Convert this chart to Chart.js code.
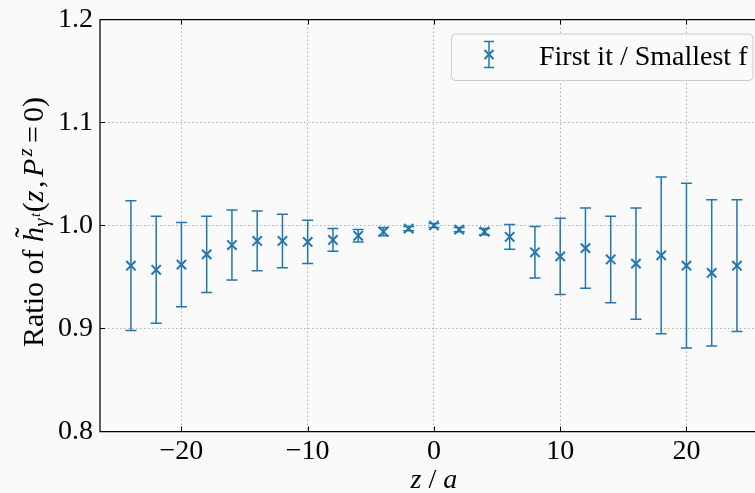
<!DOCTYPE html>
<html>
<head>
<meta charset="utf-8">
<script src="https://cdn.jsdelivr.net/npm/chart.js@4.4.0/dist/chart.umd.min.js"></script>
<style>
html, body { margin: 0; padding: 0; background: #fafafa; }
#wrap { width: 755px; height: 493px; }
</style>
</head>
<body>
<div id="wrap"><canvas id="chart" width="755" height="493"></canvas></div>
<script>
// data
const zValues = [-24, -22, -20, -18, -16, -14, -12, -10, -8, -6, -4, -2, 0, 2, 4, 6, 8, 10, 12, 14, 16, 18, 20, 22, 24];
const ratioValues = [0.961, 0.957, 0.962, 0.972, 0.981, 0.985, 0.985, 0.984, 0.986, 0.990, 0.994, 0.997, 1.000,
    0.996, 0.994, 0.989, 0.974, 0.970, 0.978, 0.967, 0.963, 0.971, 0.961, 0.954, 0.961];
const ratioErrors = [0.063, 0.052, 0.041, 0.037, 0.034, 0.029, 0.026, 0.021, 0.011, 0.006, 0.004, 0.002, 0.002,
    0.002, 0.003, 0.012, 0.025, 0.037, 0.039, 0.042, 0.054, 0.076, 0.080, 0.071, 0.064];
const xTicks = [-20, -10, 0, 10, 20];
const yTicks = [0.8, 0.9, 1.0, 1.1, 1.2];
const legendLabel = 'First it / Smallest f';

const COLOR = '#1f77b4';
const SERIF = '"Liberation Serif", "Times New Roman", serif';
const FS = 28;
const LS = 30;

function fontOf(style, size) {
    return `${style} ${size}px ${SERIF}`;
}

// draw a run of text pieces (normal / italic / sub / sup) centred on cx, baseline y
function drawRich(ctx, pieces, cx, y, base) {
    let total = 0;
    pieces.forEach(p => {
        ctx.font = fontOf(p.s || 'normal', p.f || base);
        p.w = ctx.measureText(p.t).width + (p.gap || 0);
        total += p.w;
    });
    let x = cx - total / 2;
    ctx.textAlign = 'left';
    ctx.textBaseline = 'alphabetic';
    pieces.forEach(p => {
        ctx.font = fontOf(p.s || 'normal', p.f || base);
        const gx = x + (p.gap || 0) / 2;
        ctx.fillText(p.t, gx, y + (p.dy || 0));
        if (p.tilde) {
            const hw = ctx.measureText(p.t).width;
            ctx.font = fontOf('normal', base);
            const tw = ctx.measureText('\u02DC').width;
            ctx.fillText('\u02DC', gx + hw / 2 - tw / 2 + 2, y - 8);
        }
        x += p.w;
    });
}

const frameAndLabels = {
    id: 'frameAndLabels',
    beforeDraw(chart) {
        const ctx = chart.ctx;
        ctx.save();
        ctx.fillStyle = '#fafafa';
        ctx.fillRect(0, 0, chart.width, chart.height);
        ctx.restore();
    },
    beforeDatasetsDraw(chart) {
        // error bars, placed through the scales
        const ctx = chart.ctx;
        const xs = chart.scales.x;
        const ys = chart.scales.y;
        ctx.save();
        ctx.strokeStyle = COLOR;
        ctx.lineWidth = 1.5;
        zValues.forEach((z, i) => {
            const px = xs.getPixelForValue(z);
            const top = ys.getPixelForValue(ratioValues[i] + ratioErrors[i]);
            const bot = ys.getPixelForValue(ratioValues[i] - ratioErrors[i]);
            ctx.beginPath();
            ctx.moveTo(px, top);
            ctx.lineTo(px, bot);
            ctx.moveTo(px - 5.5, top);
            ctx.lineTo(px + 5.5, top);
            ctx.moveTo(px - 5.5, bot);
            ctx.lineTo(px + 5.5, bot);
            ctx.stroke();
        });
        ctx.restore();
    },
    afterDraw(chart) {
        const ctx = chart.ctx;
        const a = chart.chartArea;
        const xs = chart.scales.x;
        const ys = chart.scales.y;
        ctx.save();

        // spines
        ctx.strokeStyle = '#000';
        ctx.lineWidth = 1.25;
        ctx.beginPath();
        ctx.moveTo(a.right + 5, a.top);
        ctx.lineTo(a.left, a.top);
        ctx.lineTo(a.left, a.bottom);
        ctx.lineTo(a.right + 5, a.bottom);
        ctx.stroke();

        // inward ticks
        ctx.lineWidth = 1;
        ctx.beginPath();
        xTicks.forEach(v => {
            const px = Math.round(xs.getPixelForValue(v)) + 0.5;
            ctx.moveTo(px, a.bottom);
            ctx.lineTo(px, a.bottom - 5);
            ctx.moveTo(px, a.top);
            ctx.lineTo(px, a.top + 5);
        });
        yTicks.forEach(v => {
            const py = ys.getPixelForValue(v);
            ctx.moveTo(a.left, py);
            ctx.lineTo(a.left + 5, py);
        });
        ctx.stroke();

        // axis titles
        ctx.fillStyle = '#000';
        drawRich(ctx, [
            { t: 'z', s: 'italic' },
            { t: ' / ' },
            { t: 'a', s: 'italic' }
        ], xs.getPixelForValue(0), 488, FS);

        ctx.save();
        ctx.translate(43, 222);
        ctx.rotate(-Math.PI / 2);
        drawRich(ctx, [
            { t: 'Ratio of ' },
            { t: 'h', s: 'italic', tilde: true },
            { t: '\u03B3', s: 'italic', f: 20, dy: 5, gap: 1 },
            { t: 't', s: 'italic', f: 14, dy: -3, gap: 2 },
            { t: '(' },
            { t: 'z', s: 'italic' },
            { t: ',', gap: 5 },
            { t: 'P', s: 'italic', gap: 2 },
            { t: 'z', s: 'italic', f: 20, dy: -11, gap: 3 },
            { t: '=', gap: 8 },
            { t: '0)' }
        ], 0, 0, LS);
        ctx.restore();

        // legend
        const lx = 451.5, ly = 34, lw = 301.5, lh = 46.5, r = 4;
        ctx.beginPath();
        ctx.moveTo(lx + r, ly);
        ctx.lineTo(lx + lw - r, ly);
        ctx.arcTo(lx + lw, ly, lx + lw, ly + r, r);
        ctx.lineTo(lx + lw, ly + lh - r);
        ctx.arcTo(lx + lw, ly + lh, lx + lw - r, ly + lh, r);
        ctx.lineTo(lx + r, ly + lh);
        ctx.arcTo(lx, ly + lh, lx, ly + lh - r, r);
        ctx.lineTo(lx, ly + r);
        ctx.arcTo(lx, ly, lx + r, ly, r);
        ctx.closePath();
        ctx.fillStyle = 'rgba(250,250,250,0.9)';
        ctx.fill();
        ctx.strokeStyle = '#cccccc';
        ctx.lineWidth = 1;
        ctx.stroke();

        const ix = 489, iy = 54.5;
        ctx.strokeStyle = COLOR;
        ctx.lineWidth = 1.5;
        ctx.beginPath();
        ctx.moveTo(ix, iy - 13);
        ctx.lineTo(ix, iy + 13);
        ctx.moveTo(ix - 5, iy - 13);
        ctx.lineTo(ix + 5, iy - 13);
        ctx.moveTo(ix - 5, iy + 13);
        ctx.lineTo(ix + 5, iy + 13);
        ctx.stroke();
        ctx.lineWidth = 2;
        ctx.beginPath();
        ctx.moveTo(ix - 4.5, iy - 4.5);
        ctx.lineTo(ix + 4.5, iy + 4.5);
        ctx.moveTo(ix - 4.5, iy + 4.5);
        ctx.lineTo(ix + 4.5, iy - 4.5);
        ctx.stroke();

        ctx.fillStyle = '#000';
        ctx.font = fontOf('normal', FS);
        ctx.textAlign = 'left';
        ctx.textBaseline = 'alphabetic';
        ctx.fillText(legendLabel, 539, 65);

        ctx.restore();
    }
};

function fmtX(v) {
    return v < 0 ? '\u2212' + Math.abs(v) : String(v);
}

new Chart(document.getElementById('chart'), {
    type: 'scatter',
    data: {
        datasets: [{
            label: legendLabel,
            data: zValues.map((z, i) => ({ x: z, y: ratioValues[i] })),
            pointStyle: 'crossRot',
            pointRadius: 6.6,
            pointHoverRadius: 6.6,
            borderColor: COLOR,
            backgroundColor: COLOR,
            borderWidth: 2,
            showLine: false
        }]
    },
    options: {
        responsive: false,
        animation: false,
        devicePixelRatio: 1,
        layout: {
            autoPadding: false,
            padding: { top: 19.5, right: 1, left: 0, bottom: 0 }
        },
        plugins: {
            legend: { display: false },
            tooltip: { enabled: false }
        },
        scales: {
            x: {
                type: 'linear',
                min: -26.45,
                max: 25.35,
                afterBuildTicks: s => { s.ticks = xTicks.map(v => ({ value: v })); },
                afterFit: s => {
                    s.height = 61.5;
                    s.paddingLeft = 0;
                    s.paddingRight = 0;
                },
                ticks: {
                    font: { family: SERIF, size: FS },
                    color: '#000',
                    padding: 3,
                    maxRotation: 0,
                    autoSkip: false,
                    callback: v => fmtX(v)
                },
                grid: { color: '#b0b0b0', lineWidth: 1, drawTicks: false },
                border: { display: false, dash: [1.5, 2.5] }
            },
            y: {
                type: 'linear',
                min: 0.8,
                max: 1.2,
                afterBuildTicks: s => { s.ticks = yTicks.map(v => ({ value: v })); },
                afterFit: s => {
                    s.width = 100;
                    s.paddingTop = 0;
                    s.paddingBottom = 0;
                },
                ticks: {
                    font: { family: SERIF, size: FS },
                    color: '#000',
                    padding: 7,
                    callback: v => Number(v).toFixed(1)
                },
                grid: { color: '#b0b0b0', lineWidth: 1, drawTicks: false },
                border: { display: false, dash: [1.5, 2.5] }
            }
        }
    },
    plugins: [frameAndLabels]
});
</script>
</body>
</html>
